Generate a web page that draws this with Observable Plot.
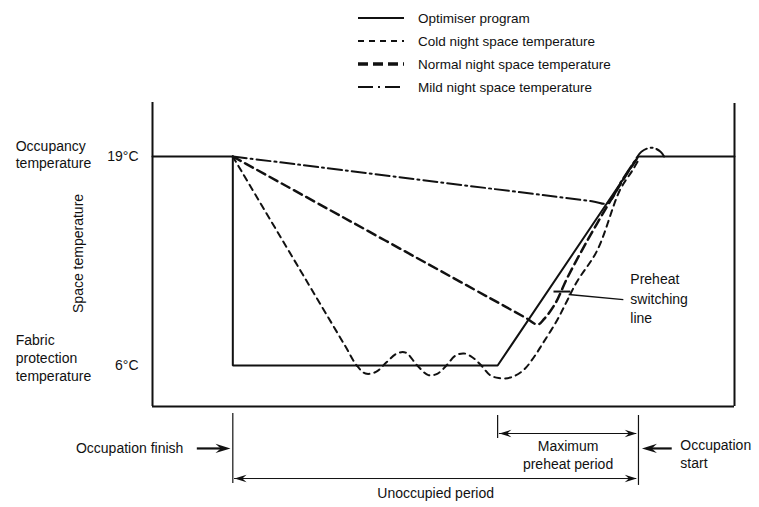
<!DOCTYPE html>
<html><head><meta charset="utf-8">
<script src="https://cdn.jsdelivr.net/npm/d3@7"></script>
<script src="https://cdn.jsdelivr.net/npm/@observablehq/plot@0.6"></script>
<style>
body{margin:0;background:#fff;font-family:"Liberation Sans",Arial,Helvetica,sans-serif;}
#wrap{position:relative;width:759px;height:507px;}
#legend{position:absolute;left:358px;top:0;font-size:13.5px;color:#111;}
.row{position:absolute;left:0;height:20px;display:flex;align-items:center;white-space:nowrap;}
.row svg{width:46px;height:10px;margin-right:14px;}
#chart{position:absolute;left:0;top:0;}
</style></head><body>
<div id="wrap"><div id="chart"></div><div id="legend"></div></div>
<script>
// ---- data (time in arbitrary units 0-100 across the frame, temperature in °C) ----
const seriesNames = ["Optimiser program","Cold night space temperature","Normal night space temperature","Mild night space temperature"];
const tempTicks = [6, 19];
const occupationFinish = 13.8, preheatStart = 59.3, occupationStart = 83.5;

const optimiserX = [0, 13.8, 13.8, 59.3, 83.5, 100];
const optimiserT = [19, 19, 6, 6, 19, 19];

const coldX = [13.8, 15.5, 33.0, 35.1, 36.6, 38.4, 40.2, 42.0, 43.5, 45.5, 47.4, 49.0, 50.5, 52.0, 53.5, 55.0, 56.5, 58.0, 59.5, 61.5, 63.7, 65.5, 67.1, 69.5, 71.2, 72.9, 76.4, 80.3, 82.4, 83.7];
const coldT = [19, 17.96, 7.28, 6.0, 5.5, 5.6, 6.2, 6.75, 6.8, 6.0, 5.4, 5.5, 6.0, 6.6, 6.75, 6.5, 6.0, 5.4, 5.22, 5.25, 5.7, 6.5, 7.4, 8.8, 10.0, 11.2, 13.15, 16.9, 18.1, 18.9];

const normalX = [13.8, 16.0, 64.0, 66.2, 67.3, 69.2, 71.2, 74.3, 78.6, 82.0, 83.5];
const normalT = [19, 18.56, 8.99, 8.55, 8.9, 9.85, 11.4, 13.5, 16.2, 18.2, 19.0];

const mildX = [13.8, 17.0, 75.5, 78.2, 80.6, 82.8, 84.0, 85.8, 87.3, 87.9];
const mildT = [19, 18.86, 16.22, 16.1, 17.5, 18.7, 19.3, 19.55, 19.3, 19.0];

const leftLabels = ["Occupancy\ntemperature", "Fabric\nprotection\ntemperature"];
const axisLabel = "Space temperature";
const preheatLabel = "Preheat\nswitching\nline";
const bottomLabels = ["Occupation finish", "Occupation\nstart", "Maximum\npreheat period", "Unoccupied period"];

// ---- build ----
const zipPts = (xs, ts) => xs.map((x, i) => ({x, t: ts[i]}));
const optimiser = zipPts(optimiserX, optimiserT);
const cold = zipPts(coldX, coldT);
const normal = zipPts(normalX, normalT);
const mild = zipPts(mildX, mildT);

const styles = [
  {w: 2, dash: null, lw: 2, ldash: null},
  {w: 2, dash: "6,5", lw: 2, ldash: "6,5"},
  {w: 2.5, dash: "9,5", lw: 3.5, ldash: "10,5"},
  {w: 2, dash: "14,4,2,4", lw: 2.2, ldash: "15,5,2,5"}
];

// legend
const legend = document.getElementById("legend");
seriesNames.forEach((name, i) => {
  const row = document.createElement("div");
  row.className = "row";
  row.style.top = (8 + i * 23) + "px";
  const s = styles[i];
  row.innerHTML = `<svg viewBox="0 0 46 10"><line x1="0" x2="46" y1="5" y2="5" stroke="#111" stroke-width="${s.lw}" ${s.ldash ? `stroke-dasharray="${s.ldash}"` : ""}/></svg><span>${name}</span>`;
  legend.appendChild(row);
});

const stealthRight = {draw(ctx, size) { const r = Math.sqrt(size / Math.PI); const L = 2 * r, W = 0.62 * r; ctx.moveTo(0, 0); ctx.lineTo(-L, -W); ctx.lineTo(-0.65 * L, 0); ctx.lineTo(-L, W); ctx.closePath(); }};
const stealthLeft = {draw(ctx, size) { const r = Math.sqrt(size / Math.PI); const L = 2 * r, W = 0.62 * r; ctx.moveTo(0, 0); ctx.lineTo(L, -W); ctx.lineTo(0.65 * L, 0); ctx.lineTo(L, W); ctx.closePath(); }};

const ink = "#111";
const midPreheat = (preheatStart + occupationStart) / 2;
const midUnocc = (occupationFinish + occupationStart) / 2;

const chart = Plot.plot({
  width: 759, height: 507,
  marginLeft: 152, marginRight: 25, marginTop: 102, marginBottom: 101,
  x: {domain: [0, 100], axis: null},
  y: {domain: [3.45, 22.36], axis: null},
  style: {fontSize: "14px", fontFamily: "'Liberation Sans', Arial, sans-serif", color: ink, background: "transparent"},
  marks: [
    // frame (no top)
    Plot.ruleX([0], {y1: 3.45, y2: 22.36, stroke: ink, strokeWidth: 2}),
    Plot.ruleX([100], {y1: 3.45, y2: 22.3, stroke: ink, strokeWidth: 2}),
    Plot.ruleY([3.45], {x1: 0, x2: 100, stroke: ink, strokeWidth: 2.2}),
    Plot.axisY(tempTicks, {tickSize: 0, tickPadding: 14, tickFormat: d => d + "°C", fontSize: 14, label: null}),
    // series
    Plot.line(mild, {x: "x", y: "t", stroke: ink, strokeWidth: styles[3].w, strokeDasharray: styles[3].dash, curve: "catmull-rom"}),
    Plot.line(cold, {x: "x", y: "t", stroke: ink, strokeWidth: styles[1].w, strokeDasharray: styles[1].dash, curve: "catmull-rom"}),
    Plot.line(normal, {x: "x", y: "t", stroke: ink, strokeWidth: styles[2].w, strokeDasharray: styles[2].dash, curve: "catmull-rom"}),
    Plot.line(optimiser, {x: "x", y: "t", stroke: ink, strokeWidth: styles[0].w, strokeLinejoin: "miter"}),
    // preheat switching line pointer
    Plot.link([0], {x1: 80.9, y1: 10.1, x2: 71.5, y2: 10.42, stroke: ink, strokeWidth: 1.4}),
    Plot.link([0], {x1: 68.9, y1: 10.6, x2: 71.8, y2: 10.6, stroke: ink, strokeWidth: 2}),
    Plot.text([preheatLabel], {x: 82.1, y: 10.23, text: d => d, textAnchor: "start", lineHeight: 1.4, fontSize: 14}),
    // left labels
    Plot.text([leftLabels[0]], {x: -23.5, y: 19.16, text: d => d, textAnchor: "start", lineHeight: 1.2, fontSize: 14}),
    Plot.text([leftLabels[1]], {x: -23.5, y: 6.5, text: d => d, textAnchor: "start", lineHeight: 1.28, fontSize: 14}),
    Plot.text([axisLabel], {x: -12.7, y: 12.97, text: d => d, rotate: -90, fontSize: 14}),
    // bottom dimension annotations
    Plot.ruleX([occupationFinish], {y1: 3.01, y2: -1.34, stroke: ink, strokeWidth: 1.2}),
    Plot.ruleX([preheatStart], {y1: 2.89, y2: 1.46, stroke: ink, strokeWidth: 1.2}),
    Plot.ruleX([occupationStart], {y1: 2.89, y2: -1.46, stroke: ink, strokeWidth: 1.2}),
    Plot.ruleY([1.77], {x1: preheatStart + 0.3, x2: occupationStart - 0.3, stroke: ink, strokeWidth: 1}),
    Plot.ruleY([-1.03], {x1: occupationFinish + 0.3, x2: occupationStart - 0.3, stroke: ink, strokeWidth: 1}),
    Plot.dot([0], {x: preheatStart + 0.3, y: 1.77, symbol: stealthLeft, r: 6, fill: ink, stroke: "none"}),
    Plot.dot([0], {x: occupationStart - 0.3, y: 1.77, symbol: stealthRight, r: 6, fill: ink, stroke: "none"}),
    Plot.dot([0], {x: occupationFinish + 0.3, y: -1.03, symbol: stealthLeft, r: 6, fill: ink, stroke: "none"}),
    Plot.dot([0], {x: occupationStart - 0.3, y: -1.03, symbol: stealthRight, r: 6, fill: ink, stroke: "none"}),
    // occupation finish / start arrows
    Plot.ruleY([0.84], {x1: 7.7, x2: occupationFinish - 1.5, stroke: ink, strokeWidth: 2.2}),
    Plot.dot([0], {x: occupationFinish - 0.4, y: 0.84, symbol: stealthRight, r: 7.5, fill: ink, stroke: "none"}),
    Plot.ruleY([0.84], {x1: 89.3, x2: occupationStart + 1.5, stroke: ink, strokeWidth: 2.2}),
    Plot.dot([0], {x: occupationStart + 0.6, y: 0.84, symbol: stealthLeft, r: 7.5, fill: ink, stroke: "none"}),
    // bottom texts
    Plot.text([bottomLabels[0]], {x: 5.3, y: 0.84, text: d => d, textAnchor: "end", fontSize: 14}),
    Plot.text([bottomLabels[1]], {x: 90.7, y: 0.56, text: d => d, textAnchor: "start", lineHeight: 1.35, fontSize: 14}),
    Plot.text([bottomLabels[2]], {x: midPreheat, y: 0.46, text: d => d, textAnchor: "middle", lineHeight: 1.3, fontSize: 14}),
    Plot.text([bottomLabels[3]], {x: midUnocc, y: -1.96, text: d => d, textAnchor: "middle", fontSize: 14})
  ]
});
document.getElementById("chart").appendChild(chart);
</script>
</body></html>
